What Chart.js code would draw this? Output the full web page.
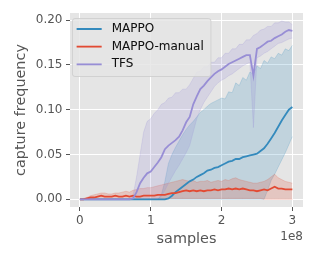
<!DOCTYPE html>
<html><head><meta charset="utf-8">
<script src="https://cdn.jsdelivr.net/npm/chart.js@4.4.1/dist/chart.umd.min.js"></script>
<style>html,body{margin:0;padding:0;background:#fff}#wrap{width:316px;height:263px}</style>
</head><body><div id="wrap"><canvas id="c" width="316" height="263"></canvas></div>
<script>
// x positions, in units of 1e8 samples
const samplesE8 = [0,0.05,0.1,0.15,0.2,0.25,0.3,0.35,0.4,0.45,0.5,0.55,0.6,0.65,0.7,0.75,0.8,0.85,0.9,0.95,1,1.05,1.1,1.15,1.2,1.25,1.3,1.35,1.4,1.45,1.5,1.55,1.6,1.65,1.7,1.75,1.8,1.85,1.9,1.95,2,2.05,2.1,2.15,2.2,2.25,2.3,2.35,2.4,2.45,2.5,2.55,2.6,2.65,2.7,2.75,2.8,2.85,2.9,2.95,3];
const seriesNames = ['MAPPO','MAPPO-manual','TFS'];

const mappoMean = [0,0,0,0,0,0,0,0,0,0,0,0,0,0,0,0,0,0,0,0,0,0,0,0,0,0.001,0.004,0.008,0.011,0.014,0.017,0.020,0.022,0.025,0.027,0.029,0.032,0.033,0.035,0.036,0.038,0.040,0.042,0.043,0.045,0.045,0.047,0.048,0.049,0.050,0.051,0.054,0.057,0.062,0.068,0.074,0.081,0.088,0.094,0.100,0.103];
const mappoLow = [0,0,0,0,0,0,0,0,0,0,0,0,0,0,0,0,0,0,0,0,0,0,0,0,0,0,0,0,0,0,0,0,0,0,0,0,0,0,0,0,0,0,0,0,0,0,0,0,0,0,0,0,0,0.010,0.021,0.028,0.036,0.044,0.052,0.061,0.070];
const mappoHigh = [0,0,0,0,0,0,0,0,0,0,0,0,0,0,0,0,0,0,0,0,0,0,0,0.005,0.020,0.040,0.050,0.058,0.065,0.072,0.078,0.083,0.087,0.092,0.097,0.100,0.104,0.107,0.109,0.111,0.113,0.112,0.120,0.119,0.130,0.127,0.136,0.133,0.142,0.140,0.149,0.146,0.155,0.152,0.159,0.157,0.163,0.161,0.168,0.166,0.172];

const manualMean = [0,0,0.001,0.002,0.002,0.003,0.004,0.003,0.003,0.003,0.004,0.003,0.003,0.004,0.003,0.004,0.003,0.003,0.004,0.004,0.004,0.004,0.005,0.005,0.005,0.006,0.007,0.007,0.008,0.009,0.010,0.009,0.010,0.009,0.010,0.009,0.010,0.010,0.011,0.010,0.011,0.011,0.012,0.011,0.012,0.011,0.012,0.011,0.010,0.010,0.009,0.010,0.011,0.010,0.012,0.014,0.012,0.012,0.011,0.011,0.011];
const manualLow = [0,0,0,0,0,0,0,0,0,0,0,0,0,0,0,0,0,0,0,0,0.001,0.001,0.001,0.001,0.001,0.001,0.001,0.001,0.001,0.001,0.001,0.001,0.001,0.001,0.001,0.001,0.001,0.001,0.001,0.001,0.001,0.001,0.001,0.001,0.001,0.001,0.001,0.001,0.001,0.001,0.001,0.001,0,0,0,0,0,0,0,0,0];
const manualHigh = [0,0.001,0.002,0.004,0.005,0.006,0.007,0.007,0.006,0.006,0.007,0.007,0.008,0.009,0.008,0.010,0.011,0.012,0.012,0.013,0.013,0.014,0.015,0.016,0.017,0.018,0.019,0.020,0.021,0.022,0.021,0.020,0.021,0.019,0.020,0.020,0.021,0.019,0.020,0.021,0.020,0.022,0.021,0.023,0.024,0.022,0.021,0.020,0.019,0.018,0.018,0.019,0.020,0.022,0.025,0.028,0.024,0.022,0.020,0.019,0.018];

const tfsMean = [0,0,0,0,0,0,0,0,0,0,0,0,0,0,0,0.001,0.008,0.018,0.024,0.029,0.031,0.036,0.041,0.047,0.056,0.060,0.063,0.066,0.070,0.077,0.086,0.092,0.106,0.115,0.123,0.127,0.132,0.136,0.140,0.143,0.145,0.148,0.151,0.153,0.155,0.157,0.159,0.161,0.161,0.138,0.168,0.170,0.173,0.176,0.177,0.180,0.182,0.184,0.187,0.189,0.188];
const tfsLow = [0,0,0,0,0,0,0,0,0,0,0,0,0,0,0,0,0,0,0,0,0,0,0,0.003,0.010,0.018,0.025,0.032,0.038,0.045,0.052,0.060,0.075,0.090,0.100,0.108,0.114,0.120,0.126,0.130,0.133,0.135,0.138,0.140,0.143,0.146,0.149,0.151,0.153,0.080,0.158,0.160,0.163,0.165,0.168,0.171,0.174,0.175,0.177,0.179,0.180];
const tfsHigh = [0,0,0,0,0,0,0,0,0,0,0,0,0,0,0,0.004,0.025,0.050,0.075,0.087,0.090,0.096,0.100,0.106,0.108,0.113,0.114,0.119,0.119,0.123,0.123,0.128,0.135,0.142,0.143,0.148,0.148,0.153,0.153,0.158,0.158,0.163,0.163,0.168,0.168,0.173,0.173,0.178,0.178,0.183,0.185,0.189,0.190,0.193,0.193,0.197,0.197,0.199,0.198,0.198,0.195];

const xTicks = [0,1,2,3];
const yTicks = [0,0.05,0.10,0.15,0.20];

const blue = '#348ABD', red = '#E24A33', purple = '#988ED5';
const blueA = 'rgba(52,138,189,0.2)', redA = 'rgba(226,74,51,0.2)', purpleA = 'rgba(152,142,213,0.2)';

const pts = arr => arr.map((v, i) => ({x: samplesE8[i], y: v}));
function band(data, col, target, order) {
  return {data: pts(data), borderColor: col, borderWidth: 1, backgroundColor: col,
          fill: target === null ? false : target, pointRadius: 0, tension: 0, order: order};
}
function line(label, data, col, order) {
  return {label: label, data: pts(data), borderColor: col, backgroundColor: col, borderWidth: 1.8,
          fill: false, pointRadius: 0, tension: 0, order: order};
}

const datasets = [
  band(mappoLow, blueA, null, 6),
  band(mappoHigh, blueA, 0, 6),
  band(manualLow, redA, null, 5),
  band(manualHigh, redA, 2, 5),
  band(tfsLow, purpleA, null, 4),
  band(tfsHigh, purpleA, 4, 4),
  line(seriesNames[0], mappoMean, blue, 3),
  line(seriesNames[1], manualMean, red, 2),
  line(seriesNames[2], tfsMean, purple, 1)
];
const legendIdx = [6, 7, 8];

const plug = {
  id: 'styling',
  beforeDraw(chart) {
    const {ctx, chartArea: a} = chart;
    ctx.save();
    ctx.fillStyle = '#ffffff'; ctx.fillRect(0, 0, chart.width, chart.height);
    ctx.fillStyle = '#E5E5E5'; ctx.fillRect(a.left, a.top, a.right - a.left, a.bottom - a.top);
    ctx.restore();
  },
  afterLayout(chart) {
    const lg = chart.legend; if (!lg) return;
    const a = chart.chartArea;
    lg.left = a.left + 1; lg.top = a.top + 4.35;
    lg.right = lg.left + 200; lg.bottom = lg.top + 100;
  },
  afterDatasetsDraw(chart) {
    const lg = chart.legend; if (!lg || !lg.legendHitBoxes.length) return;
    const ctx = chart.ctx, hb = lg.legendHitBoxes;
    const l = hb[0].left - 4.7, t = hb[0].top - 5;
    const r = Math.max(...hb.map(h => h.left + h.width)) + 6.7;
    const last = hb[hb.length - 1];
    const b = last.top + last.height + 5.7;
    ctx.save();
    ctx.beginPath(); ctx.roundRect(l + 0.5, t + 0.5, r - l, b - t, 2.5);
    ctx.fillStyle = 'rgba(229,229,229,0.85)'; ctx.fill();
    ctx.strokeStyle = 'rgba(204,204,204,0.8)'; ctx.lineWidth = 1; ctx.stroke();
    ctx.restore();
    lg.draw();
  },
  afterDraw(chart) {
    const ctx = chart.ctx, a = chart.chartArea;
    ctx.save();
    ctx.font = '12px "DejaVu Sans"'; ctx.fillStyle = '#555555';
    ctx.textAlign = 'right'; ctx.textBaseline = 'middle';
    ctx.fillText('1e8', a.right, a.bottom + 30);
    ctx.restore();
  }
};

Chart.defaults.font.family = '"DejaVu Sans", sans-serif';
new Chart(document.getElementById('c'), {
  type: 'line',
  data: {datasets: datasets},
  options: {
    responsive: false, animation: false, devicePixelRatio: 1,
    layout: {padding: {left: 0, top: 13, right: 13, bottom: 0}},
    plugins: {
      tooltip: {enabled: false},
      legend: {
        position: 'chartArea', align: 'start',
        labels: {
          font: {size: 12}, color: '#111', boxWidth: 29, boxHeight: 0, padding: 5.65,
          generateLabels: (chart) => legendIdx.map(i => {
            const ds = chart.data.datasets[i];
            return {text: ds.label, fillStyle: 'rgba(0,0,0,0)', strokeStyle: ds.borderColor,
                    lineWidth: 1.8, lineDash: [25, 1000], lineDashOffset: 0, lineCap: 'butt',
                    hidden: false, datasetIndex: i, fontColor: '#111'};
          })
        }
      }
    },
    scales: {
      x: {
        type: 'linear', min: -0.14, max: 3.15,
        afterBuildTicks: s => { s.ticks = xTicks.map(v => ({value: v})); },
        afterFit: s => { s.height = 56; },
        grid: {color: '#ffffff', lineWidth: 1, drawTicks: true, tickLength: 4, tickColor: '#555555', tickWidth: 1},
        border: {display: false},
        ticks: {color: '#555555', font: {size: 12}, padding: 3, maxRotation: 0, callback: v => String(v)},
        title: {display: true, text: 'samples', color: '#555555', font: {size: 14.4}, padding: {top: 0, bottom: 15.4}}
      },
      y: {
        type: 'linear', min: -0.0086, max: 0.208,
        afterBuildTicks: s => { s.ticks = yTicks.map(v => ({value: v})); },
        afterFit: s => { s.width = 70; },
        grid: {color: '#ffffff', lineWidth: 1, drawTicks: true, tickLength: 4, tickColor: '#555555', tickWidth: 1},
        border: {display: false},
        ticks: {color: '#555555', font: {size: 12}, padding: 3.5, callback: v => v.toFixed(2)},
        title: {display: true, text: 'capture frequency', color: '#555555', font: {size: 14.4}, padding: {top: 13, bottom: 0}}
      }
    }
  },
  plugins: [plug]
});
</script>
</body></html>
